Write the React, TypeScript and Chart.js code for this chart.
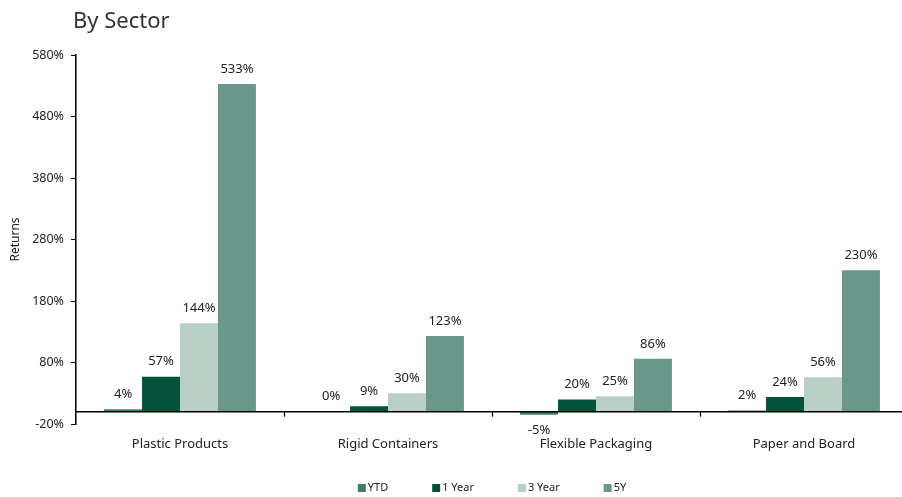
import React, { useEffect, useRef } from "react";
import { Chart, registerables } from "chart.js";

Chart.register(...registerables);

const categories = ["Plastic Products", "Rigid Containers", "Flexible Packaging", "Paper and Board"];
const seriesNames = ["YTD", "1 Year", "3 Year", "5Y"];
const ytd = [4, 0, -5, 2];
const oneYear = [57, 9, 20, 24];
const threeYear = [144, 30, 25, 56];
const fiveYear = [533, 123, 86, 230];
const yTicks = [-20, 80, 180, 280, 380, 480, 580];
const seriesColors = ["#3f7f69", "#03523a", "#b8cfc5", "#69978a"];

const FONT = "'Noto Sans', 'DejaVu Sans', sans-serif";

const decorPlugin = {
  id: "decor",
  afterDatasetsDraw(chart: any) {
    const { ctx, chartArea, scales } = chart;
    const x = scales.x;
    const y = scales.y;
    const y0 = y.getPixelForValue(0);
    ctx.save();
    // zero line
    ctx.strokeStyle = "#000";
    ctx.lineWidth = 1.6;
    ctx.beginPath();
    ctx.moveTo(chartArea.left, y0);
    ctx.lineTo(chartArea.right, y0);
    ctx.stroke();
    // category boundary ticks
    ctx.lineWidth = 1.2;
    for (let i = 1; i < categories.length; i++) {
      const bx = Math.round((x.getPixelForValue(i - 1) + x.getPixelForValue(i)) / 2) + 0.5;
      ctx.beginPath();
      ctx.moveTo(bx, y0);
      ctx.lineTo(bx, y0 + 5);
      ctx.stroke();
    }
    // data labels
    ctx.font = `13px ${FONT}`;
    ctx.fillStyle = "#222";
    ctx.textAlign = "center";
    ctx.textBaseline = "middle";
    chart.data.datasets.forEach((ds: any, di: number) => {
      const meta = chart.getDatasetMeta(di);
      meta.data.forEach((el: any, i: number) => {
        const v = ds.data[i];
        const ty = v >= 0 ? el.y - 15 : el.y + 16;
        ctx.fillText(`${v}%`, el.x, ty);
      });
    });
    // title
    ctx.font = `22px ${FONT}`;
    ctx.fillStyle = "#333";
    ctx.textAlign = "left";
    ctx.textBaseline = "alphabetic";
    ctx.fillText("By Sector", chartArea.left - 3, 28);
    // legend
    ctx.font = `11px ${FONT}`;
    const box = 8;
    const gapText = 2;
    const gapItem = 44;
    const widths = chart.data.datasets.map((ds: any) => box + gapText + ctx.measureText(ds.label).width);
    const total = widths.reduce((a: number, b: number) => a + b, 0) + gapItem * (widths.length - 1);
    let lx = (chartArea.left + chartArea.right) / 2 - total / 2;
    const ly = 488;
    ctx.textBaseline = "middle";
    chart.data.datasets.forEach((ds: any, di: number) => {
      ctx.fillStyle = ds.backgroundColor;
      ctx.fillRect(lx, ly - box / 2, box, box);
      ctx.fillStyle = "#222";
      ctx.fillText(ds.label, lx + box + gapText, ly);
      lx += widths[di] + gapItem;
    });
    ctx.restore();
  },
};

export default function App() {
  const ref = useRef<HTMLCanvasElement | null>(null);
  useEffect(() => {
    if (!ref.current) return;
    const values = [ytd, oneYear, threeYear, fiveYear];
    const chart = new Chart(ref.current, {
      type: "bar",
      data: {
        labels: categories,
        datasets: values.map((d, i) => ({
          label: seriesNames[i],
          data: d,
          backgroundColor: seriesColors[i],
          borderWidth: 0,
          categoryPercentage: 0.73,
          barPercentage: 1.0,
        })),
      },
      options: {
        responsive: false,
        animation: false,
        layout: { padding: { top: 55, left: 0, right: 2, bottom: 33 } },
        plugins: {
          legend: { display: false },
          tooltip: { enabled: false },
          title: { display: false },
        },
        scales: {
          x: {
            type: "category",
            grid: { display: false },
            border: { display: false },
            ticks: { color: "#222", font: { family: FONT, size: 13 }, padding: 4, maxRotation: 0 },
            afterFit: (s: any) => {
              s.height = 40;
            },
          },
          y: {
            min: -20,
            max: 580,
            afterBuildTicks: (s: any) => {
              s.ticks = yTicks.map((v) => ({ value: v }));
            },
            afterFit: (s: any) => {
              s.width = 76;
            },
            grid: { display: true, drawOnChartArea: false, drawTicks: true, tickLength: 5, color: "#000", lineWidth: 1 },
            border: { display: true, color: "#000", width: 1.5 },
            ticks: {
              color: "#222",
              font: { family: FONT, size: 12.5 },
              padding: 7,
              callback: (v: any) => `${v}%`,
            },
            title: {
              display: true,
              text: "Returns",
              color: "#222",
              font: { family: FONT, size: 12 },
              padding: { top: 8, bottom: 0 },
            },
          },
        },
      },
      plugins: [decorPlugin],
    });
    return () => chart.destroy();
  }, []);
  return (
    <div style={{ position: "fixed", left: 0, top: 0, width: 902, height: 497, overflow: "hidden", background: "#fff" }}>
      <canvas ref={ref} width={910} height={497} style={{ width: 910, height: 497, display: "block" }} />
    </div>
  );
}
